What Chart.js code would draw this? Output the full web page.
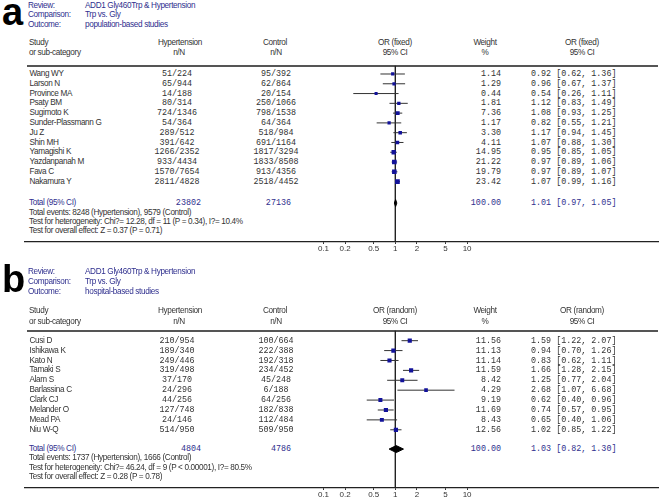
<!DOCTYPE html>
<html><head><meta charset="utf-8">
<script src="https://cdn.jsdelivr.net/npm/chart.js@4/dist/chart.umd.min.js"></script>
<style>
html,body{margin:0;padding:0;background:#fff;width:662px;height:501px;overflow:hidden;position:relative;}
.t{position:absolute;white-space:nowrap;font-family:"Liberation Sans",Arial,sans-serif;font-size:8.2px;letter-spacing:-0.35px;line-height:10px;height:10px;color:#333;}
.m{font-family:"Liberation Mono","Courier New",monospace;font-size:8.4px;letter-spacing:0;}
.navy{color:#2f2f8e;}
.big{position:absolute;font-family:"Liberation Sans",Arial,sans-serif;font-weight:bold;font-size:38px;line-height:38px;color:#000;}
.sep{position:absolute;height:2px;background:#555;}
canvas{position:absolute;left:0;}
</style>
</head><body>
<script>
// ---------- DATA ----------
const tickValues = [0.1, 0.2, 0.5, 1, 2, 5, 10];

const studiesA = ["Wang WY","Larson N","Province MA","Psaty BM","Sugimoto K","Sunder-Plassmann G","Ju Z","Shin MH","Yamagishi K","Yazdanpanah M","Fava C","Nakamura Y"];
const hypA = ["51/224","65/944","14/188","80/314","724/1346","54/364","289/512","391/642","1266/2352","933/4434","1570/7654","2811/4828"];
const ctrlA = ["95/392","62/864","20/154","250/1066","798/1538","64/364","518/984","691/1164","1817/3294","1833/8508","913/4356","2518/4452"];
const weightA = [1.14,1.29,0.44,1.81,7.36,1.17,3.30,4.11,14.95,21.22,19.79,23.42];
const orA = [0.92,0.96,0.54,1.12,1.08,0.82,1.17,1.07,0.95,0.97,0.97,1.07];
const loA = [0.62,0.67,0.26,0.83,0.93,0.55,0.94,0.88,0.85,0.89,0.89,0.99];
const hiA = [1.36,1.37,1.11,1.49,1.25,1.21,1.45,1.30,1.05,1.06,1.07,1.16];
const totalA = [1.01, 0.97, 1.05];          // OR, lower, upper
const totalNA = ["23802", "27136"];
const headerA = ["ADD1 Gly460Trp & Hypertension", "Trp vs. Gly", "population-based studies"];
const statsA = ["Total events: 8248 (Hypertension), 9579 (Control)",
                "Test for heterogeneity: Chi?= 12.28, df = 11 (P = 0.34), I?= 10.4%",
                "Test for overall effect: Z = 0.37 (P = 0.71)"];

const studiesB = ["Cusi D","Ishikawa K","Kato N","Tamaki S","Alam S","Barlassina C","Clark CJ","Melander O","Mead PA","Niu W-Q"];
const hypB = ["210/954","189/340","249/446","319/498","37/170","24/296","44/256","127/748","24/146","514/950"];
const ctrlB = ["100/664","222/388","192/318","234/452","45/248","6/188","64/256","182/838","112/484","509/950"];
const weightB = [11.56,11.13,11.14,11.59,8.42,4.29,9.19,11.69,8.43,12.56];
const orB = [1.59,0.94,0.83,1.66,1.25,2.68,0.62,0.74,0.65,1.02];
const loB = [1.22,0.70,0.62,1.28,0.77,1.07,0.40,0.57,0.40,0.85];
const hiB = [2.07,1.26,1.11,2.15,2.04,6.68,0.96,0.95,1.06,1.22];
const totalB = [1.03, 0.82, 1.30];
const totalNB = ["4804", "4786"];
const headerB = ["ADD1 Gly460Trp & Hypertension", "Trp vs. Gly", "hospital-based studies"];
const statsB = ["Total events: 1737 (Hypertension), 1666 (Control)",
                "Test for heterogeneity: Chi?= 46.24, df = 9 (P < 0.00001), I?= 80.5%",
                "Test for overall effect: Z = 0.28 (P = 0.78)"];

// ---------- LAYOUT ----------
const X1 = 395.3, DEC = 71.8, PL = 25, PR = 658, W = 662;
const xmin = Math.pow(10, -(X1 - PL) / DEC), xmax = Math.pow(10, (PR - X1) / DEC);

function txt(s, x, yc, align, cls) {
  const d = document.createElement('div');
  d.className = 't ' + (cls || '');
  d.textContent = s;
  d.style.left = x + 'px';
  d.style.top = (yc - 5) + 'px';
  if (align === 'c') d.style.transform = 'translateX(-50%)';
  if (align === 'r') d.style.transform = 'translateX(-100%)';
  document.body.appendChild(d);
}
const fmtCI = (o, l, h) => o.toFixed(2) + ' [' + l.toFixed(2) + ', ' + h.toFixed(2) + ']';
const side = w => 2.8 + 0.4 * Math.sqrt(w);

function panel(P) {
  const big = document.createElement('div');
  big.className = 'big'; big.textContent = P.letter;
  big.style.left = P.letterX + 'px'; big.style.top = P.letterY + 'px';
  document.body.appendChild(big);

  ['Review:', 'Comparison:', 'Outcome:'].forEach((l, i) => {
    txt(l, 28, P.hy[i], 'l', 'navy');
    txt(P.header[i], 85, P.hy[i], 'l', 'navy');
  });
  txt('Study', 29, P.cy[0]); txt('or sub-category', 29, P.cy[1]);
  txt('Hypertension', 180, P.cy[0], 'c'); txt('n/N', 179, P.cy[1], 'c');
  txt('Control', 275, P.cy[0], 'c'); txt('n/N', 276, P.cy[1], 'c');
  txt(P.method, 395, P.cy[0], 'c'); txt('95% CI', 395, P.cy[1], 'c');
  txt('Weight', 485, P.cy[0], 'c'); txt('%', 485, P.cy[1], 'c');
  txt(P.method, 582, P.cy[0], 'c'); txt('95% CI', 582, P.cy[1], 'c');

  const sep = document.createElement('div');
  sep.className = 'sep'; sep.style.left = '27px'; sep.style.width = (PR - 27) + 'px';
  sep.style.top = (P.sepY - 1) + 'px';
  document.body.appendChild(sep);

  P.studies.forEach((s, i) => {
    const y = P.row0 + i * P.rowH;
    txt(s, 29.5, y);
    txt(P.hyp[i], 177, y, 'c', 'm');
    txt(P.ctrl[i], 276, y, 'c', 'm');
    txt(P.weight[i].toFixed(2), 501, y, 'r', 'm');
    txt(fmtCI(P.or[i], P.lo[i], P.hi[i]), 531, y, 'l', 'm');
  });
  txt('Total (95% CI)', 29, P.totalY, 'l', 'navy');
  txt(P.totalN[0], 201, P.totalY, 'r', 'm navy');
  txt(P.totalN[1], 291, P.totalY, 'r', 'm navy');
  txt('100.00', 501, P.totalY, 'r', 'm navy');
  txt(fmtCI(P.total[0], P.total[1], P.total[2]), 531, P.totalY, 'l', 'm navy');
  P.stats.forEach((s, i) => txt(s, 29, P.statY[i], 'l'));

  // chart
  const top = Math.floor(P.sepY) - 6;
  const padTop = P.sepY - top;
  const axisH = 20;
  const H = Math.round(P.axisY + axisH - top);
  const cv = document.createElement('canvas');
  cv.width = W; cv.height = H; cv.style.top = top + 'px';
  cv.style.width = W + 'px'; cv.style.height = H + 'px';
  document.body.appendChild(cv);

  const ymin = (P.sepY - P.row0) / P.rowH;
  const ymax = ymin + (P.axisY + axisH - top - padTop - axisH) / P.rowH;
  const ti = (P.totalY - P.row0) / P.rowH;
  const dh = 3.5 / P.rowH;

  const datasets = [];
  datasets.push({
    data: P.or.map((v, i) => ({ x: v, y: i })),
    pointStyle: 'rect',
    pointRadius: ctx => side(P.weight[ctx.dataIndex]) / (2 * Math.SQRT1_2),
    backgroundColor: '#12129a', borderWidth: 0, showLine: false, order: 0
  });
  P.lo.forEach((l, i) => datasets.push({
    data: [{ x: l, y: i }, { x: P.hi[i], y: i }],
    showLine: true, borderColor: '#333', borderWidth: 1, pointRadius: 0, order: 2
  }));
  datasets.push({
    data: [{ x: P.total[1], y: ti }, { x: P.total[0], y: ti - dh }, { x: P.total[2], y: ti },
           { x: P.total[0], y: ti + dh }, { x: P.total[1], y: ti }],
    showLine: true, fill: 'shape', backgroundColor: '#000', borderColor: '#000',
    borderWidth: 1, pointRadius: 0, order: 1
  });
  datasets.push({
    data: [{ x: 1, y: ymin }, { x: 1, y: ymax }],
    showLine: true, borderColor: '#222', borderWidth: 1.4, pointRadius: 0, order: 3
  });

  new Chart(cv, {
    type: 'scatter',
    data: { datasets },
    options: {
      responsive: false, animation: false, devicePixelRatio: 1,
      events: [],
      layout: { padding: { left: PL, right: W - PR, top: padTop, bottom: 0 } },
      plugins: { legend: { display: false }, tooltip: { enabled: false } },
      scales: {
        x: {
          type: 'logarithmic', min: xmin, max: xmax,
          afterBuildTicks: s => { s.ticks = tickValues.map(v => ({ value: v })); },
          afterFit: s => { s.height = axisH; },
          grid: { drawOnChartArea: false, drawTicks: true, tickLength: 2, color: '#333' },
          border: { display: true, color: '#222', width: 1.2 },
          ticks: { autoSkip: false, maxRotation: 0, padding: 0, color: '#333',
                   font: { family: '"Liberation Sans", Arial, sans-serif', size: 8 },
                   callback: v => String(v) }
        },
        y: { display: false, min: ymin, max: ymax, reverse: true }
      }
    }
  });
}

panel({
  letter: 'a', letterX: 2, letterY: -7, header: headerA, method: 'OR (fixed)',
  hy: [5.5, 15, 24.5], cy: [43, 52.5], sepY: 65.5, row0: 74, rowH: 9.8,
  totalY: 203.3, statY: [212.7, 222, 231.3], axisY: 242.3,
  studies: studiesA, hyp: hypA, ctrl: ctrlA, weight: weightA, or: orA, lo: loA, hi: hiA,
  total: totalA, totalN: totalNA, stats: statsA
});
panel({
  letter: 'b', letterX: 2, letterY: 259.5, header: headerB, method: 'OR (random)',
  hy: [272, 281.8, 291.6], cy: [311, 321.5], sepY: 330.5, row0: 340.7, rowH: 9.92,
  totalY: 449.3, statY: [458.3, 467.7, 477], axisY: 488.3,
  studies: studiesB, hyp: hypB, ctrl: ctrlB, weight: weightB, or: orB, lo: loB, hi: hiB,
  total: totalB, totalN: totalNB, stats: statsB
});
</script>
</body></html>
